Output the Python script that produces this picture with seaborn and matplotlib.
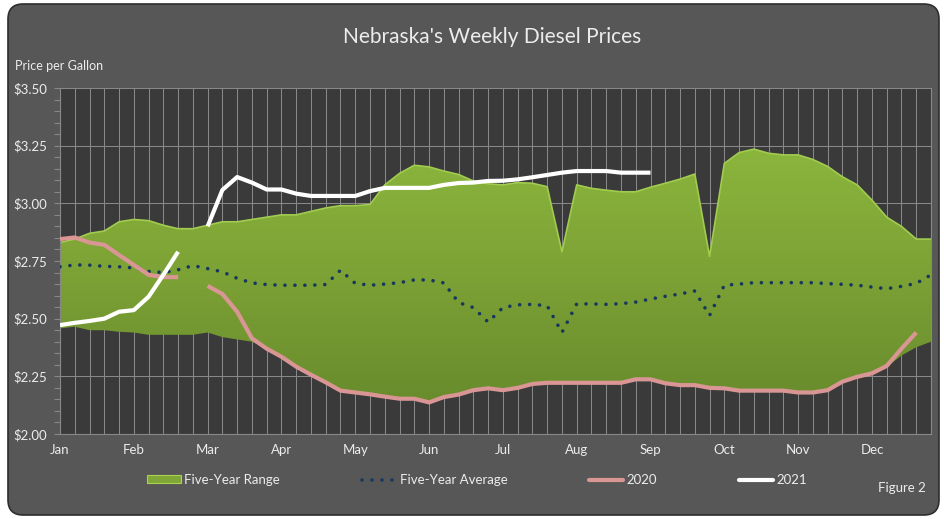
import numpy as np
import pandas as pd
import matplotlib
matplotlib.use('Agg')
import matplotlib.pyplot as plt
from matplotlib.patches import FancyBboxPatch, PathPatch, Patch
from matplotlib.lines import Line2D
from matplotlib.colors import LinearSegmentedColormap
import seaborn as sns

# ── Data (weekly positions) ───────────────────────────────────
months = ['Jan', 'Feb', 'Mar', 'Apr', 'May', 'Jun',
          'Jul', 'Aug', 'Sep', 'Oct', 'Nov', 'Dec']
nan = np.nan

range_max = [2.830, 2.845, 2.870, 2.880, 2.920, 2.930, 2.925, 2.905, 2.890, 2.890,
             2.905, 2.920, 2.920, 2.930, 2.940, 2.950, 2.950, 2.965, 2.980, 2.990,
             2.990, 2.995, 3.080, 3.130, 3.165, 3.158, 3.140, 3.125, 3.097, 3.085,
             3.080, 3.090, 3.087, 3.072, 2.790, 3.080, 3.065, 3.057, 3.050, 3.050,
             3.070, 3.087, 3.105, 3.127, 2.770, 3.173, 3.220, 3.235, 3.217, 3.210,
             3.210, 3.190, 3.160, 3.115, 3.080, 3.014, 2.940, 2.900, 2.845, 2.845]

range_min = [2.458, 2.465, 2.450, 2.450, 2.443, 2.440, 2.430, 2.430, 2.430, 2.430,
             2.440, 2.420, 2.410, 2.400, 2.370, 2.335, 2.292, 2.257, 2.224, 2.188,
             2.180, 2.172, 2.162, 2.153, 2.153, 2.137, 2.160, 2.171, 2.190, 2.198,
             2.190, 2.200, 2.217, 2.222, 2.222, 2.222, 2.222, 2.222, 2.222, 2.237,
             2.237, 2.220, 2.212, 2.212, 2.200, 2.198, 2.188, 2.188, 2.188, 2.188,
             2.180, 2.180, 2.190, 2.227, 2.248, 2.263, 2.290, 2.340, 2.376, 2.400]

five_year_avg = [2.725, 2.733, 2.732, 2.727, 2.725, 2.720, 2.705, 2.700, 2.712, 2.730,
                 2.717, 2.703, 2.675, 2.655, 2.648, 2.645, 2.645, 2.645, 2.648, 2.710,
                 2.653, 2.645, 2.650, 2.656, 2.668, 2.668, 2.655, 2.570, 2.548, 2.485,
                 2.548, 2.560, 2.562, 2.556, 2.440, 2.564, 2.564, 2.562, 2.565, 2.572,
                 2.585, 2.597, 2.607, 2.620, 2.514, 2.645, 2.650, 2.656, 2.656, 2.656,
                 2.656, 2.656, 2.652, 2.649, 2.645, 2.637, 2.630, 2.640, 2.653, 2.690]

prices_2020 = [2.845, 2.852, 2.830, 2.820, 2.776, 2.733, 2.690, 2.680, 2.680, nan,
               2.642, 2.607, 2.530, 2.415, 2.370, 2.335, 2.292, 2.257, 2.224, 2.188,
               2.180, 2.172, 2.162, 2.153, 2.153, 2.137, 2.160, 2.171, 2.190, 2.198,
               2.190, 2.200, 2.217, 2.222, 2.222, 2.222, 2.222, 2.222, 2.222, 2.237,
               2.237, 2.220, 2.212, 2.212, 2.200, 2.198, 2.188, 2.188, 2.188, 2.188,
               2.180, 2.180, 2.190, 2.227, 2.248, 2.263, 2.295, 2.370, 2.440, nan]

prices_2021 = [2.472, 2.482, 2.490, 2.500, 2.530, 2.537, 2.595, 2.690, 2.790, nan,
               2.900, 3.058, 3.114, 3.090, 3.060, 3.060, 3.042, 3.032, 3.032, 3.032,
               3.032, 3.053, 3.067, 3.067, 3.067, 3.067, 3.080, 3.088, 3.090, 3.097,
               3.098, 3.104, 3.113, 3.123, 3.133, 3.140, 3.140, 3.140, 3.133, 3.133,
               3.133] + [nan] * 19

weeks = np.arange(len(range_max))
df = pd.DataFrame({'week': weeks, 'max': range_max, 'min': range_min,
                   'avg': five_year_avg, 'y2020': prices_2020, 'y2021': prices_2021})

# ── Style ─────────────────────────────────────────────────────
sns.set_theme(style='dark')
plt.rcParams['font.family'] = ['Lato', 'DejaVu Sans']
TXT = '#ececec'
GRID = '#888888'
C2020 = '#d99694'
CAVG = '#17375e'

fig = plt.figure(figsize=(9.45, 5.19), dpi=100)
fig.patch.set_facecolor('white')
frame = FancyBboxPatch((8 / 945, 4 / 519), 931 / 945, 511 / 519,
                       boxstyle='round,pad=0,rounding_size=0.016',
                       mutation_aspect=1.82, transform=fig.transFigure,
                       facecolor='#575757', edgecolor='#2e2e2e', lw=1.2, zorder=-10)
fig.patches.append(frame)

ax = fig.add_axes([60 / 945, 85 / 519, 871 / 945, 346 / 519])
ax.set_facecolor('#3a3a3a')
ax.set_axisbelow(True)

# ── Five-year range (gradient filled band) ────────────────────
band = ax.fill_between(df['week'], df['min'], df['max'], facecolor='none',
                       edgecolor='none')
clip = PathPatch(band.get_paths()[0], transform=ax.transData,
                 facecolor='none', edgecolor='none')
ax.add_patch(clip)
green = LinearSegmentedColormap.from_list('green', ['#678a2c', '#7ca135', '#8bb63d'])
im = ax.imshow(np.linspace(0, 1, 256).reshape(-1, 1), cmap=green, origin='lower',
               extent=[0, 59, 2.1, 3.25], aspect='auto', zorder=1)
im.set_clip_path(clip)
sns.lineplot(data=df, x='week', y='max', ax=ax, color='#a2cc4f', lw=1.2, zorder=1.5)

# ── Lines ─────────────────────────────────────────────────────
sns.lineplot(data=df, x='week', y='avg', ax=ax, color=CAVG, lw=2.6,
             linestyle=(0, (0.01, 2.75)), dash_capstyle='round', zorder=3)

# the series break at missing weeks, so draw each run on its own
for col, color in [('y2020', C2020), ('y2021', 'white')]:
    seg_id = df[col].isna().cumsum()
    for _, seg in df[df[col].notna()].groupby(seg_id[df[col].notna()]):
        sns.lineplot(data=seg, x='week', y=col, ax=ax, color=color, lw=3.0,
                     solid_capstyle='butt', zorder=4)

# ── Axes ──────────────────────────────────────────────────────
ax.set_xlim(0, 59)
ax.set_ylim(2.0, 3.5)
ax.set_xticks(range(0, 60, 5))
ax.set_xticklabels(months)
ax.set_xticks(range(60), minor=True)
ax.set_yticks(np.arange(2.0, 3.51, 0.25))
ax.set_yticklabels([f'${v:.2f}' for v in np.arange(2.0, 3.51, 0.25)])
ax.set_yticks(np.arange(2.0, 3.51, 0.05), minor=True)
ax.grid(axis='x', which='both', color=GRID, lw=0.75)
ax.grid(axis='y', which='major', color=GRID, lw=0.75)
ax.grid(axis='y', which='minor', visible=False)
ax.tick_params(axis='x', which='both', length=0, pad=7, labelsize=9.5, labelcolor=TXT)
ax.tick_params(axis='y', which='both', length=4, width=0.8, color=GRID, direction='out',
               left=True, labelsize=9.5, labelcolor=TXT, pad=5)
ax.set_xlabel('')
ax.set_ylabel('')
for side, sp in ax.spines.items():
    sp.set_color(GRID)
    sp.set_linewidth(0.8)
    sp.set_visible(side in ('left', 'bottom', 'right'))

# ── Text ──────────────────────────────────────────────────────
fig.text(492 / 945, 1 - 37 / 519, "Nebraska's Weekly Diesel Prices", ha='center',
         va='center', fontsize=15, color=TXT)
fig.text(15 / 945, 1 - 66 / 519, 'Price per Gallon', ha='left', va='center',
         fontsize=9, color=TXT)
fig.text(926 / 945, 1 - 488 / 519, 'Figure 2', ha='right', va='center',
         fontsize=9.5, color=TXT)

handles = [Patch(facecolor='#7fa637', edgecolor='#a8d452', lw=0.8),
           Line2D([], [], color=CAVG, lw=2.6, linestyle=(0, (0.01, 2.75)),
                  dash_capstyle='round'),
           Line2D([], [], color=C2020, lw=3.0),
           Line2D([], [], color='white', lw=3.0)]
labels = ['Five-Year Range', 'Five-Year Average', '2020', '2021']
leg = fig.legend(handles, labels, loc='center', bbox_to_anchor=(477 / 945, 1 - 480 / 519),
                 ncol=4, frameon=False, fontsize=9.5, handlelength=2.6,
                 handletextpad=0.25, columnspacing=6.2, handleheight=0.55)
for t in leg.get_texts():
    t.set_color(TXT)

fig.savefig('out.png', dpi=100, facecolor=fig.get_facecolor())
